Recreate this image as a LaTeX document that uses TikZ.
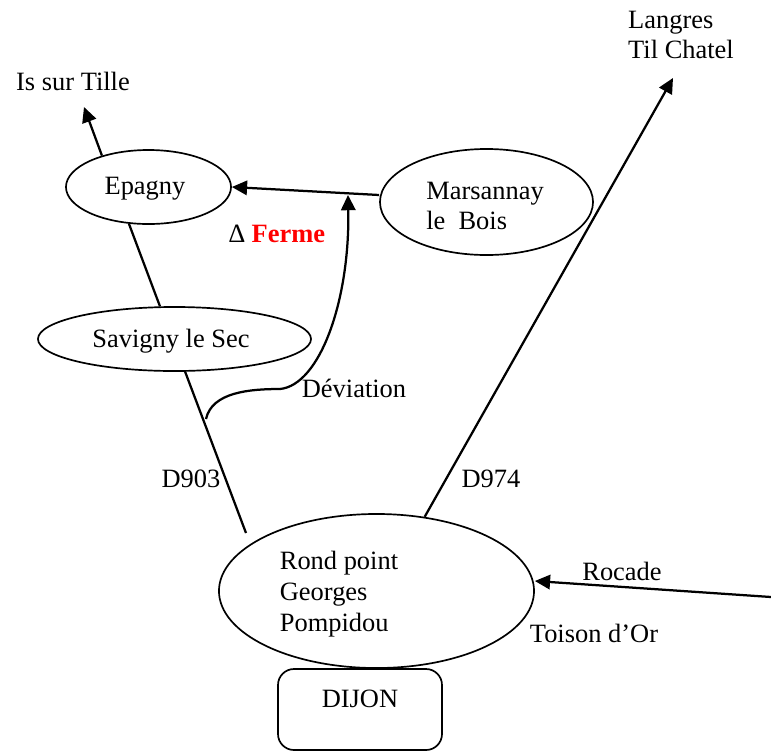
\documentclass[tikz,border=0pt]{standalone}
\usepackage{fontspec}
\setmainfont{Liberation Serif}
\usetikzlibrary{positioning, shapes.geometric, arrows.meta}
\definecolor{fermered}{HTML}{FF0000}
\tikzset{
    town/.style={draw=black, ellipse, line width=1.2pt, inner sep=0pt},
    place/.style={inner sep=0pt, align=left},
    road/.style={draw=black, line width=1.6pt},
    roadto/.style={road, -{Triangle[length=0.38cm,width=0.36cm]}},
}
\begin{document}
\begin{tikzpicture}[x=0.025cm, y=-0.025cm, font=\fontsize{18.8}{21.8}\selectfont]
        \useasboundingbox (0,0) rectangle (771,752);

        \node[town, minimum width=4.125cm, minimum height=1.85cm] (epagny) at (148.5,187) {};
        \node[town, minimum width=6.825cm, minimum height=1.6cm] (savigny) at (174.5,339) {};
        \node[town, minimum width=5.325cm, minimum height=2.65cm] (marsannay) at (486.5,202) {};
        \node[town, minimum width=7.875cm, minimum height=3.85cm] (rondpoint) at (376.5,591) {};
        \draw[line width=1.2pt, rounded corners=0.4cm] (278,669) rectangle (442,750);

        \node[place] (tepagny) at (145,189) {Epagny};
        \node[place] (tsavigny) at (171,341) {Savigny le Sec};
        \node[place] (tmarsannay) at (485,206) {Marsannay\\le\ \ Bois};
        \node[place] (trond) at (339,594) {Rond point\\Georges\\Pompidou};
        \node[place] (dijon) at (360,699) {DIJON};

        \node[place] (tille) at (73,81) {Is sur Tille};
        \node[place] (langres) at (681,35) {Langres\\Til Chatel};
        \node[place] (ferme) at (277,234) {∆ \textcolor{fermered}{\textbf{Ferme}}};
        \node[place] (deviation) at (354,388) {Déviation};
        \node[place] (dnine) at (191,479) {D903};
        \node[place] (dfour) at (491,479) {D974};
        \node[place] (rocade) at (622,571) {Rocade};
        \node[place] (toison) at (594,633) {Toison d’Or};

        \coordinate (tilleend) at (84,107);
        \coordinate (langresend) at (673,78);
        \coordinate (rocadeend) at (771,597);
        \coordinate (d903end) at (246,533);
        \coordinate (devstart) at (206,419);
        \coordinate (devend) at (348,195);

        \draw[roadto] (epagny.146) -- (tilleend);
        \draw[road] (epagny.-118) -- (savigny.114);
        \draw[road] (savigny.-72) -- (d903end);
        \draw[roadto] (marsannay.west |- 0,195) -- (epagny.east);
        \draw[roadto] (rondpoint.57) -- (langresend);
        \draw[roadto] (rocadeend) -- (rondpoint.east |- 0,581);
        \draw[roadto] (devstart) .. controls (212,392) and (250,389) .. (280,389)
            .. controls (320,385) and (350,300) .. (devend);
\end{tikzpicture}
\end{document}
